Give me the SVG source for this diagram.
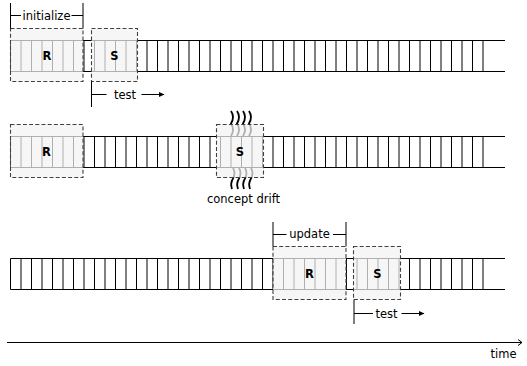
<svg xmlns="http://www.w3.org/2000/svg" xmlns:xlink="http://www.w3.org/1999/xlink" width="527" height="366" viewBox="0 0 527 366">
<style>
.tape{fill:none;stroke:#000;stroke-width:1}
.box{fill:#f2f2f2;fill-opacity:0.72;stroke:#404040;stroke-width:1.1;stroke-dasharray:4 2.2}
.lbl{font-family:"DejaVu Sans","Liberation Sans",sans-serif;font-size:11.5px;fill:#000;text-anchor:middle}
.bl{font-family:"DejaVu Sans","Liberation Sans",sans-serif;font-size:11.5px;font-weight:bold;fill:#000;text-anchor:middle}
.ln{fill:none;stroke:#000;stroke-width:1}
.sq{fill:none;stroke:#000;stroke-width:1.8}
</style>
<defs>
<path id="tapeShape" class="tape" d="M10.5 0H505M10.5 31H505M10.5 0v31M21 0v31M31.5 0v31M42 0v31M52.5 0v31M63 0v31M73.5 0v31M84 0v31M94.5 0v31M105 0v31M115.5 0v31M126 0v31M136.5 0v31M147 0v31M157.5 0v31M168 0v31M178.5 0v31M189 0v31M199.5 0v31M210 0v31M220.5 0v31M231 0v31M241.5 0v31M252 0v31M262.5 0v31M273 0v31M283.5 0v31M294 0v31M304.5 0v31M315 0v31M325.5 0v31M336 0v31M346.5 0v31M357 0v31M367.5 0v31M378 0v31M388.5 0v31M399 0v31M409.5 0v31M420 0v31M430.5 0v31M441 0v31M451.5 0v31M462 0v31M472.5 0v31M483 0v31"/>
<marker id="ah" markerWidth="6" markerHeight="6" refX="5" refY="3" orient="auto" markerUnits="userSpaceOnUse">
<path d="M0 0.5L5.5 3L0 5.5Z" fill="#000"/>
</marker>
<marker id="oh" markerWidth="6" markerHeight="8" refX="5" refY="4" orient="auto" markerUnits="userSpaceOnUse">
<path d="M1 1L5 4L1 7" fill="none" stroke="#000" stroke-width="1"/>
</marker>
</defs>

<g id="tape1"><use xlink:href="#tapeShape" href="#tapeShape" transform="translate(0,40.5)"/></g>
<g id="tape2"><use xlink:href="#tapeShape" href="#tapeShape" transform="translate(0,136.5)"/></g>
<g id="tape3"><use xlink:href="#tapeShape" href="#tapeShape" transform="translate(0,258.5)"/></g>

<g id="drift">
<path class="sq" d="M231 111q4 6 0 12.5q4 6 0 12.5"/>
<path class="sq" d="M237 111q4 6 0 12.5q4 6 0 12.5"/>
<path class="sq" d="M243 111q4 6 0 12.5q4 6 0 12.5"/>
<path class="sq" d="M249 111q4 6 0 12.5q4 6 0 12.5"/>
<path class="sq" d="M233 168q3 5 0 10.5q-3 5 -1 10.5"/>
<path class="sq" d="M239 168q3 5 0 10.5q-3 5 -1 10.5"/>
<path class="sq" d="M245 168q3 5 0 10.5q-3 5 -1 10.5"/>
<path class="sq" d="M251 168q3 5 0 10.5q-3 5 -1 10.5"/>
</g>

<g id="row1-R"><rect class="box" x="10.5" y="28.5" width="72.5" height="53"/><text class="bl" x="47" y="59.5">R</text></g>
<g id="row1-S"><rect class="box" x="91.5" y="28.5" width="46" height="53"/><text class="bl" x="114.5" y="59.5">S</text></g>
<g id="row2-R"><rect class="box" x="10.5" y="124.5" width="72.5" height="53"/><text class="bl" x="46.5" y="156">R</text></g>
<g id="row2-S"><rect class="box" x="216.5" y="124.5" width="47" height="53"/><text class="bl" x="240" y="156">S</text></g>
<g id="row3-R"><rect class="box" x="273" y="246.5" width="73" height="53"/><text class="bl" x="309.5" y="278">R</text></g>
<g id="row3-S"><rect class="box" x="353.5" y="246.5" width="47" height="53"/><text class="bl" x="377.5" y="278">S</text></g>

<g id="connectors">
<path class="ln" d="M10.5 3V28.5M83 3V28.5M10.5 15.5H21M71.5 15.5H83"/>
<path class="ln" d="M91.5 81.5V107M91.5 94.5H106.5"/>
<path class="ln" d="M141.5 94.5H164" marker-end="url(#ah)"/>
<path class="ln" d="M273 222V246.5M346 222V246.5M273 234.5H286.5M333 234.5H346"/>
<path class="ln" d="M354 299.5V324M354 313.5H373"/>
<path class="ln" d="M401.5 313.5H424" marker-end="url(#ah)"/>
<path class="ln" d="M7 342.5H522" marker-end="url(#oh)"/>
</g>

<g id="labels">
<text class="lbl" x="46.5" y="20">initialize</text>
<text class="lbl" x="125" y="99">test</text>
<text class="lbl" x="243.5" y="203">concept drift</text>
<text class="lbl" x="309.5" y="238">update</text>
<text class="lbl" x="386.5" y="318">test</text>
<text class="lbl" x="503.5" y="358">time</text>
</g>
</svg>
